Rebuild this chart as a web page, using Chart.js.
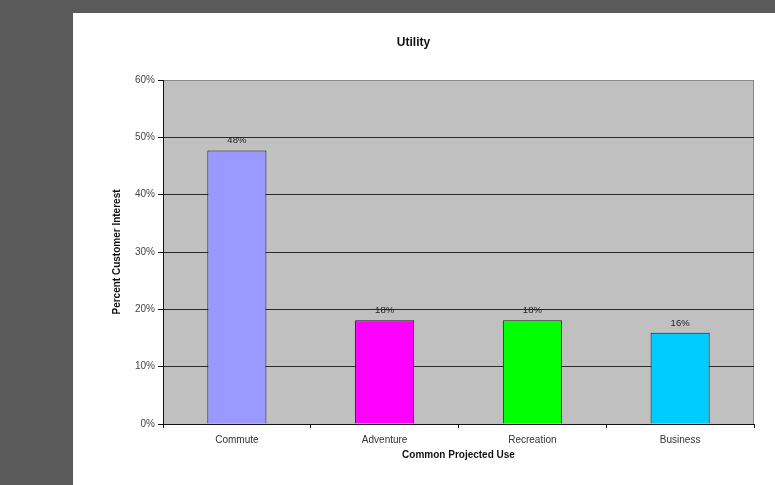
<!DOCTYPE html>
<html>
<head>
<meta charset="utf-8">
<script src="https://cdn.jsdelivr.net/npm/chart.js@4.4.0/dist/chart.umd.min.js"></script>
<style>
  html, body { margin: 0; padding: 0; background: #5a5a5a; overflow: hidden; width: 775px; height: 485px; }
  #panel { position: absolute; left: 73px; top: 13px; width: 718px; height: 472px; background: #fff; }
</style>
</head>
<body>
<div id="panel"><canvas id="utilityChart" width="718" height="472"></canvas></div>
<script>
// Datos del gráfico
const categories = ["Commute", "Adventure", "Recreation", "Business"]
const interest = [47.7, 18.1, 18.1, 15.9]
const barColors = ["#9999ff", "#ff00ff", "#00ff00", "#00ccff"]
const yTicks = [0, 10, 20, 30, 40, 50, 60]

// Fondo gris del área de trazado
const plotBackground = {
  id: "plotBackground",
  beforeDraw(chart) {
    const { ctx, chartArea: a } = chart
    ctx.save()
    ctx.fillStyle = "#c0c0c0"
    ctx.fillRect(a.left, a.top, a.right - a.left, a.bottom - a.top)
    ctx.strokeStyle = "#8a8a8a"
    ctx.lineWidth = 1
    ctx.beginPath()
    ctx.moveTo(a.left, a.top + 0.5)
    ctx.lineTo(a.right - 0.5, a.top + 0.5)
    ctx.lineTo(a.right - 0.5, a.bottom)
    ctx.stroke()
    ctx.restore()
  },
}

// Etiquetas de valor encima de cada barra
const valueLabels = {
  id: "valueLabels",
  afterDatasetsDraw(chart) {
    const { ctx } = chart
    const meta = chart.getDatasetMeta(0)
    ctx.save()
    ctx.font = "9.5px 'Liberation Sans', Arial, sans-serif"
    ctx.fillStyle = "#222"
    ctx.textAlign = "center"
    ctx.textBaseline = "bottom"
    meta.data.forEach((bar, i) => {
      ctx.fillText(Math.round(interest[i]) + "%", bar.x, bar.y - 5)
    })
    ctx.restore()
  },
}

const ctx = document.getElementById("utilityChart").getContext("2d")

new Chart(ctx, {
  type: "bar",
  data: {
    labels: categories,
    datasets: [
      {
        data: interest,
        backgroundColor: barColors,
        borderColor: "#1a1a1a",
        borderWidth: 1,
        barPercentage: 0.4,
        categoryPercentage: 1,
      },
    ],
  },
  options: {
    responsive: false,
    animation: false,
    layout: { padding: { left: 0, right: 37, top: 0, bottom: 0 } },
    plugins: {
      legend: { display: false },
      tooltip: { enabled: false },
      title: {
        display: true,
        text: "Utility",
        color: "#111",
        font: { family: "'Liberation Sans', Arial, sans-serif", size: 12, weight: "bold" },
        padding: { top: 22, bottom: 30.6 },
      },
    },
    scales: {
      y: {
        min: 0,
        max: 60,
        afterFit: (scale) => { scale.width = 90 },
        afterBuildTicks: (scale) => { scale.ticks = yTicks.map((v) => ({ value: v })) },
        border: { color: "#111", width: 1 },
        grid: {
          color: (c) => (c.tick && c.tick.value === 60 ? "#8a8a8a" : "#2a2a2a"),
          tickColor: "#111",
          tickLength: 5,
        },
        ticks: {
          padding: 3,
          color: "#444",
          font: { family: "'Liberation Sans', Arial, sans-serif", size: 10 },
          callback: (v) => v + "%",
        },
        title: {
          display: true,
          text: "Percent Customer Interest",
          color: "#111",
          font: { family: "'Liberation Sans', Arial, sans-serif", size: 10, weight: "bold" },
          padding: { top: 38, bottom: 0 },
        },
      },
      x: {
        afterFit: (scale) => { scale.height = 61 },
        border: { color: "#111", width: 1 },
        grid: {
          offset: true,
          drawOnChartArea: false,
          tickColor: "#111",
          tickLength: 4,
        },
        ticks: {
          padding: 6,
          color: "#333",
          font: { family: "'Liberation Sans', Arial, sans-serif", size: 10 },
        },
        title: {
          display: true,
          text: "Common Projected Use",
          color: "#111",
          font: { family: "'Liberation Sans', Arial, sans-serif", size: 10, weight: "bold" },
          padding: { top: 0, bottom: 24 },
        },
      },
    },
  },
  plugins: [plotBackground, valueLabels],
})
</script>
</body>
</html>
